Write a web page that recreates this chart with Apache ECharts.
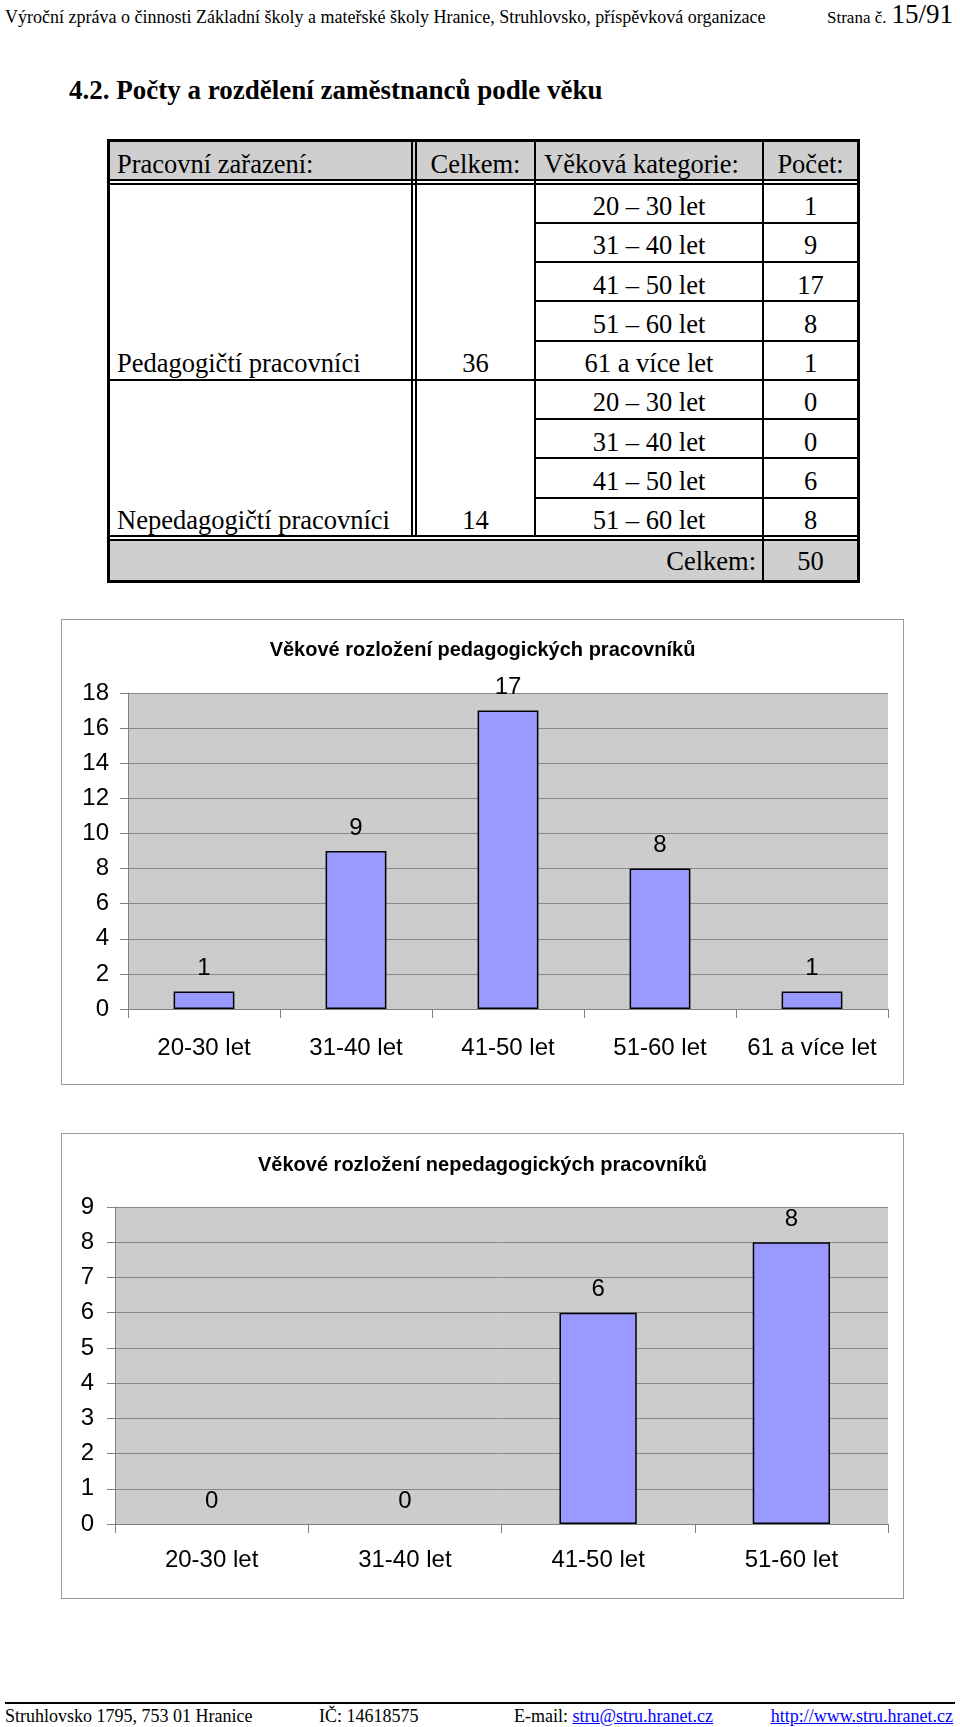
<!DOCTYPE html>
<html><head><meta charset="utf-8">
<script src="https://cdn.jsdelivr.net/npm/echarts@6/dist/echarts.min.js"></script>
<style>
html,body{margin:0;padding:0;background:#fff;}
#page{position:relative;width:960px;height:1727px;overflow:hidden;font-family:'Liberation Serif','Times New Roman',serif;color:#000;}
.t{position:absolute;white-space:nowrap;}
.r{position:absolute;background:#000;}
.chart{position:absolute;box-sizing:border-box;border:1px solid #9a9a9a;background:#fff;}
a{color:#0000ff;text-decoration:underline;}
</style></head><body><div id="page">
<div id="c1" class="chart" style="left:61px;top:619px;width:843px;height:466px;"></div>
<div id="c2" class="chart" style="left:61px;top:1133px;width:843px;height:466px;"></div>
</div>
<script>
// ---------- DATA ----------
const headerLeft = 'Výroční zpráva o činnosti Základní školy a mateřské školy Hranice, Struhlovsko, příspěvková organizace';
const headerPageLabel = 'Strana č.';
const headerPageNum = '15/91';
const sectionTitle = '4.2. Počty a rozdělení zaměstnanců podle věku';
const tableHeaders = ['Pracovní zařazení:', 'Celkem:', 'Věková kategorie:', 'Počet:'];
const groupNames = ['Pedagogičtí pracovníci', 'Nepedagogičtí pracovníci'];
const groupTotals = [36, 14];
const pedTableCats = ['20 – 30 let', '31 – 40 let', '41 – 50 let', '51 – 60 let', '61 a více let'];
const pedCounts = [1, 9, 17, 8, 1];
const nepedTableCats = ['20 – 30 let', '31 – 40 let', '41 – 50 let', '51 – 60 let'];
const nepedCounts = [0, 0, 6, 8];
const totalLabel = 'Celkem:';
const grandTotal = 50;
const pedChartTitle = 'Věkové rozložení pedagogických pracovníků';
const pedChartCats = ['20-30 let', '31-40 let', '41-50 let', '51-60 let', '61 a více let'];
const pedAxisMax = 18, pedAxisStep = 2;
const nepedChartTitle = 'Věkové rozložení nepedagogických pracovníků';
const nepedChartCats = ['20-30 let', '31-40 let', '41-50 let', '51-60 let'];
const nepedAxisMax = 9, nepedAxisStep = 1;
const footerAddress = 'Struhlovsko 1795, 753 01 Hranice';
const footerId = 'IČ: 14618575';
const footerMailLabel = 'E-mail: ';
const footerMail = 'stru@stru.hranet.cz';
const footerUrl = 'http://www.stru.hranet.cz';

// ---------- HELPERS ----------
const page = document.getElementById('page');
function rect(x, y, w, h, c) {
  const d = document.createElement('div');
  d.className = 'r';
  d.style.cssText = `left:${x}px;top:${y}px;width:${w}px;height:${h}px;` + (c ? `background:${c};` : '');
  page.appendChild(d);
  return d;
}
// place text by baseline
function txt(html, x, baseline, size, align, extra) {
  const d = document.createElement('div');
  d.className = 't';
  const top = baseline - 0.8375 * size;
  let left = x, w = '';
  if (align === 'center') { left = x - 400; w = 'width:800px;text-align:center;'; }
  else if (align === 'right') { left = x - 800; w = 'width:800px;text-align:right;'; }
  d.style.cssText = `left:${left}px;top:${top}px;font-size:${size}px;line-height:${size}px;${w}` + (extra || '');
  d.innerHTML = html;
  page.appendChild(d);
  return d;
}

// ---------- PAGE HEADER ----------
txt(headerLeft, 5, 23, 18, 'left');
txt(headerPageLabel, 827, 23.5, 17, 'left');
txt(headerPageNum, 953, 23.5, 27, 'right');
txt(sectionTitle, 69, 99.5, 27, 'left', 'font-weight:bold;');

// ---------- TABLE ----------
const GRAY = '#cfcfcf';
const FS = 26.5;
const tx0 = 107, tx1 = 860, ty0 = 139, ty1 = 583;
const c12a = 411, c12b = 415, c23 = 534, c34 = 762;
rect(110, 142, 747, 37, GRAY);           // header bg
rect(110, 540, 747, 40, GRAY);           // total row bg
// outer border
rect(tx0, ty0, tx1 - tx0, 3); rect(tx0, ty1 - 3, tx1 - tx0, 3);
rect(tx0, ty0, 3, ty1 - ty0); rect(tx1 - 3, ty0, 3, ty1 - ty0);
// header bottom double line
rect(110, 179, 747, 2); rect(110, 183, 747, 1.5);
// vertical lines
rect(c12a, 142, 2, 395); rect(c12b, 142, 2, 395);
rect(c23, 142, 2, 395);
rect(c34, 142, 2, 438);
// total row top double line
rect(110, 535, 747, 2); rect(110, 539, 747, 1.5);

const rowTop0 = 183.5, rowH = 39.25;
const allCats = pedTableCats.concat(nepedTableCats);
const allCounts = pedCounts.concat(nepedCounts);
const textOff = rowH / 2 + 3.5 + 0.33 * FS; // baseline offset inside row
for (let i = 0; i < allCats.length; i++) {
  const top = rowTop0 + i * rowH;
  if (i > 0) {
    if (i === pedTableCats.length) rect(110, top - 1, 747, 2);
    else rect(c23 + 2, top - 1, 857 - c23 - 2, 2);
  }
  const bl = top + textOff;
  txt(allCats[i], (c23 + 2 + c34) / 2, bl, FS, 'center');
  txt(String(allCounts[i]), (c34 + 2 + 857) / 2, bl, FS, 'center');
}
// header texts
const hb = 164 + 0.33 * FS;
txt(tableHeaders[0], 117, hb, FS, 'left');
txt(tableHeaders[1], (c12b + 2 + c23) / 2, hb, FS, 'center');
txt(tableHeaders[2], 544, hb, FS, 'left');
txt(tableHeaders[3], (c34 + 2 + 857) / 2, hb, FS, 'center');
// group texts (bottom aligned)
const g1bl = rowTop0 + (pedTableCats.length - 1) * rowH + textOff;
const g2bl = rowTop0 + (allCats.length - 1) * rowH + textOff;
txt(groupNames[0], 117, g1bl, FS, 'left');
txt(String(groupTotals[0]), (c12b + 2 + c23) / 2, g1bl, FS, 'center');
txt(groupNames[1], 117, g2bl, FS, 'left');
txt(String(groupTotals[1]), (c12b + 2 + c23) / 2, g2bl, FS, 'center');
// total row
const tbl = 561 + 0.33 * FS;
txt(totalLabel, 756, tbl, FS, 'right');
txt(String(grandTotal), (c34 + 2 + 857) / 2, tbl, FS, 'center');

// ---------- FOOTER ----------
rect(5, 1702, 950, 1.5);
txt(footerAddress, 5, 1722, 18, 'left');
txt(footerId, 319, 1722, 18, 'left');
txt(footerMailLabel + '<a>' + footerMail + '</a>', 514, 1722, 18, 'left');
txt('<a>' + footerUrl + '</a>', 953, 1722, 18, 'right');

// ---------- CHARTS ----------
const SANS = "'Liberation Sans', Arial, sans-serif";
function barOption(title, cats, vals, max, step, g) {
  return {
    animation: false,
    textStyle: { fontFamily: SANS },
    title: {
      text: title, left: 'center', top: g.titleTop,
      textStyle: { fontFamily: SANS, fontSize: 20, fontWeight: 'bold', color: '#000' }
    },
    grid: { left: g.left, right: g.right, top: g.top, bottom: g.bottom, show: true,
            backgroundColor: '#cccccc', borderWidth: 0 },
    xAxis: {
      type: 'category', data: cats,
      axisLine: { lineStyle: { color: '#808080', width: 1 } },
      axisTick: { show: true, length: 9, lineStyle: { color: '#808080' } },
      axisLabel: { interval: 0, fontSize: 24, color: '#000', margin: g.xMargin, fontFamily: SANS }
    },
    yAxis: {
      type: 'value', min: 0, max: max, interval: step,
      axisLine: { show: true, lineStyle: { color: '#808080', width: 1 } },
      axisTick: { show: true, length: 8, lineStyle: { color: '#808080' } },
      axisLabel: { fontSize: 24, color: '#000', margin: g.yMargin, fontFamily: SANS },
      splitLine: { show: true, lineStyle: { color: '#888888', width: 1 } }
    },
    series: [{
      type: 'bar', barWidth: '40%',
      data: vals.map(v => v === 0 ? { value: v, itemStyle: { borderWidth: 0 } } : v),
      itemStyle: { color: '#9999ff', borderColor: '#000', borderWidth: 1.5 },
      label: { show: true, position: 'top', distance: 11, fontSize: 24, color: '#000', fontFamily: SANS }
    }]
  };
}
const ch1 = echarts.init(document.getElementById('c1'), null, { renderer: 'canvas' });
ch1.setOption(barOption(pedChartTitle, pedChartCats, pedCounts, pedAxisMax, pedAxisStep,
  { titleTop: 15, left: 66, right: 15, top: 73, bottom: 75, xMargin: 27, yMargin: 19 }));
const ch2 = echarts.init(document.getElementById('c2'), null, { renderer: 'canvas' });
ch2.setOption(barOption(nepedChartTitle, nepedChartCats, nepedCounts, nepedAxisMax, nepedAxisStep,
  { titleTop: 16, left: 53, right: 15, top: 73, bottom: 74, xMargin: 24, yMargin: 21 }));
</script>
</body></html>
